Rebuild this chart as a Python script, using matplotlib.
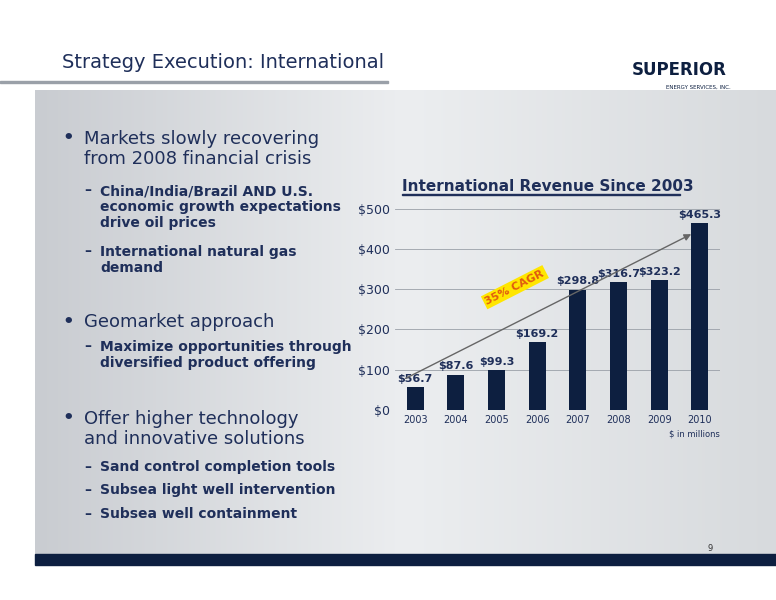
import matplotlib
matplotlib.use("Agg")
import matplotlib.pyplot as plt
import numpy as np
from matplotlib.patches import Rectangle

years = ["2003", "2004", "2005", "2006", "2007", "2008", "2009", "2010"]
revenue = [56.7, 87.6, 99.3, 169.2, 298.8, 316.7, 323.2, 465.3]
yticks = [0, 100, 200, 300, 400, 500]

fig = plt.figure(figsize=(7.76, 6.0), dpi=100)
fig.patch.set_facecolor("white")

bg = fig.add_axes([0.045, 0.075, 0.955, 0.775], zorder=0)
grad = np.linspace(0, 1, 256).reshape(1, -1)
bg.imshow(grad, aspect="auto", cmap=matplotlib.colors.LinearSegmentedColormap.from_list("g", ["#c9ccd1", "#eceef0", "#d7dadd"]), extent=[0, 1, 0, 1])
bg.axis("off")
fig.patches.append(Rectangle((0.045, 0.058), 0.955, 0.018, transform=fig.transFigure, color="#0d1f40", zorder=1))
fig.patches.append(Rectangle((0.0, 0.862), 0.5, 0.003, transform=fig.transFigure, color="#9aa0a8", zorder=1))

fig.text(0.08, 0.895, "Strategy Execution: International", fontsize=14, color="#1f2f5a", va="center")
fig.text(0.875, 0.875, "SUPERIOR", fontsize=12, fontweight="bold", color="#0d1f40", ha="center", family="DejaVu Sans")
fig.text(0.9, 0.852, "ENERGY SERVICES, INC.", fontsize=4, color="#0d1f40", ha="center")
fig.text(0.915, 0.082, "9", fontsize=6, color="#333333", ha="center")

navy = "#1f2f5a"
def t(x, y, s, size, bold=True):
    fig.text(x / 776, 1 - y / 600, s, fontsize=size, color=navy, fontweight="bold" if bold else "normal", va="center", linespacing=1.15, zorder=5)

t(62, 138, "•", 13); t(84, 149, "Markets slowly recovering\nfrom 2008 financial crisis", 13, False)
t(84, 190, "–", 10); t(100, 207, "China/India/Brazil AND U.S.\neconomic growth expectations\ndrive oil prices", 10)
t(84, 251, "–", 10); t(100, 260, "International natural gas\ndemand", 10)
t(62, 322, "•", 13); t(84, 322, "Geomarket approach", 13, False)
t(84, 346, "–", 10); t(100, 355, "Maximize opportunities through\ndiversified product offering", 10)
t(62, 418, "•", 13); t(84, 429, "Offer higher technology\nand innovative solutions", 13, False)
t(84, 467, "–", 10); t(100, 467, "Sand control completion tools", 10)
t(84, 490, "–", 10); t(100, 490, "Subsea light well intervention", 10)
t(84, 514, "–", 10); t(100, 514, "Subsea well containment", 10)

ax = fig.add_axes([0.509, 0.317, 0.419, 0.335], zorder=3)
ax.set_facecolor("none")
x = np.arange(len(years))
ax.bar(x, revenue, width=0.42, color="#0d1f40", zorder=3)
for xi, v in zip(x, revenue):
    ax.text(xi, v + 8, f"${v}", ha="center", va="bottom", fontsize=8, fontweight="bold", color=navy)
ax.set_ylim(0, 500)
ax.set_xlim(-0.5, 7.5)
ax.set_yticks(yticks)
ax.set_yticklabels([f"${v}" for v in yticks], fontsize=9, color=navy)
ax.set_xticks(x)
ax.set_xticklabels(years, fontsize=7, color=navy)
ax.yaxis.grid(True, color="#9aa0a8", lw=0.6, zorder=0)
for s in ax.spines.values():
    s.set_visible(False)
ax.tick_params(length=0)
ax.annotate("", xy=(6.85, 440), xytext=(-0.3, 75), arrowprops=dict(arrowstyle="-|>", color="#666666", lw=1))
ax.text(2.45, 305, "35% CAGR", rotation=27, fontsize=8, fontweight="bold", color="#e05a10", ha="center", va="center",
        bbox=dict(boxstyle="square,pad=0.2", fc="#ffe600", ec="none"))
ax.text(1.0, -0.135, "$ in millions", transform=ax.transAxes, ha="right", fontsize=6, color=navy)
fig.text(402 / 776, 1 - 186 / 600, "International Revenue Since 2003", fontsize=11, fontweight="bold", color=navy, va="center")
fig.patches.append(Rectangle((402 / 776, 1 - 195 / 600), 278 / 776, 0.002, transform=fig.transFigure, color=navy))

fig.savefig("out.png", dpi=100)
